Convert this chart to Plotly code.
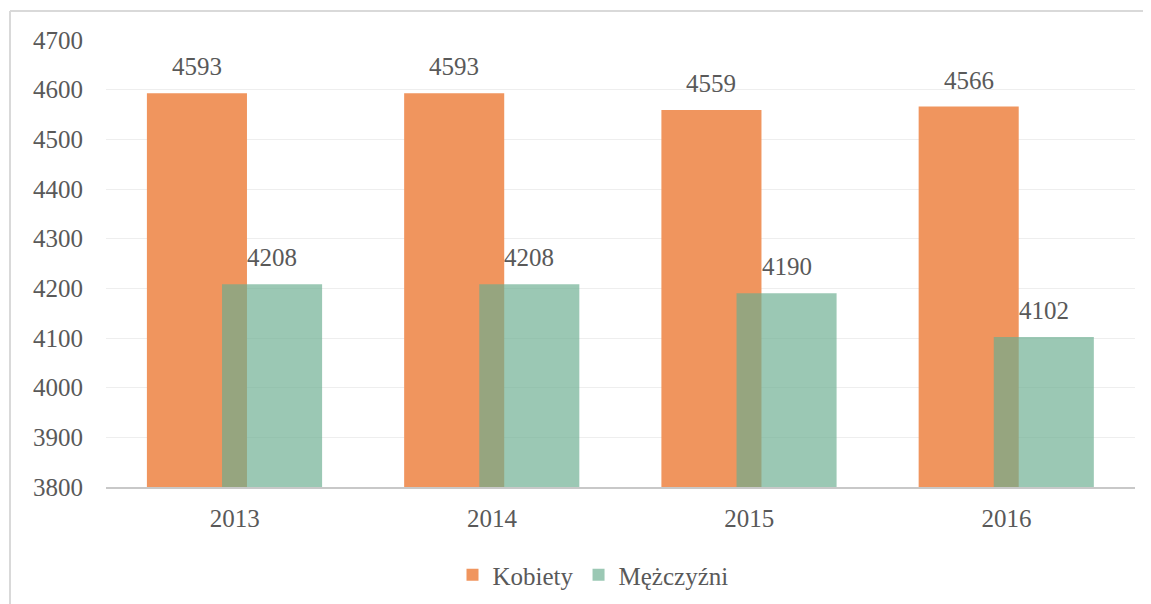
import plotly.graph_objects as go

years = ["2013", "2014", "2015", "2016"]
kobiety = [4593, 4593, 4559, 4566]
mezczyzni = [4208, 4208, 4190, 4102]
y_ticks = [3800, 3900, 4000, 4100, 4200, 4300, 4400, 4500, 4600, 4700]

# page offset of the plotly div (default body margin)
OFF = 8
W, H = 1151 - OFF, 604 - OFF
L, R, T, B = 106 - OFF, 16, 40 - OFF, 117
pw, ph = W - L - R, H - T - B

def px(x):
    return (x - OFF - L) / pw

def py(y):
    return (H - B - (y - OFF)) / ph

font_family = "Liberation Serif, Times New Roman, serif"
txt = "#595959"
fs = 25

bar_w = 0.389
off_k = -0.341
off_m = -0.049

fig = go.Figure()
fig.add_trace(go.Bar(
    x=years, y=[v - 3800 for v in kobiety], base=3800, name="Kobiety",
    marker=dict(color="#F0955E", line=dict(width=0)),
    width=bar_w, offset=off_k,
))
fig.add_trace(go.Bar(
    x=years, y=[v - 3800 for v in mezczyzni], base=3800, name="Mężczyźni",
    marker=dict(color="rgba(106,173,143,0.67)", line=dict(width=0)),
    width=bar_w, offset=off_m,
))

annotations = []
for i, v in enumerate(kobiety):
    annotations.append(dict(x=i + off_k + bar_w / 2, y=v, xref="x", yref="y",
                            text=str(v), showarrow=False, yanchor="bottom", yshift=11,
                            font=dict(family=font_family, size=fs, color=txt)))
for i, v in enumerate(mezczyzni):
    annotations.append(dict(x=i + off_m + bar_w / 2, y=v, xref="x", yref="y",
                            text=str(v), showarrow=False, yanchor="bottom", yshift=11,
                            font=dict(family=font_family, size=fs, color=txt)))

fig.update_layout(
    width=W, height=H,
    margin=dict(l=L, r=R, t=T, b=B, autoexpand=False),
    barmode="overlay",
    plot_bgcolor="white", paper_bgcolor="white",
    font=dict(family=font_family, size=fs, color=txt),
    showlegend=True,
    legend=dict(orientation="h", x=px(593), xanchor="center", y=py(575), yanchor="middle",
                font=dict(family=font_family, size=fs, color=txt),
                itemwidth=30, traceorder="normal"),
    annotations=annotations,
)
fig.update_xaxes(
    showgrid=False, showline=True, linecolor="#C8C8C8", linewidth=2,
    ticks="", ticklabelstandoff=8,
    tickfont=dict(family=font_family, size=fs, color=txt),
)
fig.update_yaxes(
    range=[3800, 4700], tickvals=y_ticks, showgrid=True, gridcolor="#EEEEEE", gridwidth=1,
    showline=False, zeroline=False, ticks="", ticklabelstandoff=22,
    tickfont=dict(family=font_family, size=fs, color=txt),
)

# frame lines (top and left) around the chart image
fig.add_shape(type="line", xref="paper", yref="paper",
              x0=px(10), x1=px(1151), y0=py(11), y1=py(11),
              line=dict(color="#D9D9D9", width=2))
fig.add_shape(type="line", xref="paper", yref="paper",
              x0=px(10), x1=px(10), y0=py(11), y1=py(604),
              line=dict(color="#D9D9D9", width=2))

fig.write_html("out.html")
